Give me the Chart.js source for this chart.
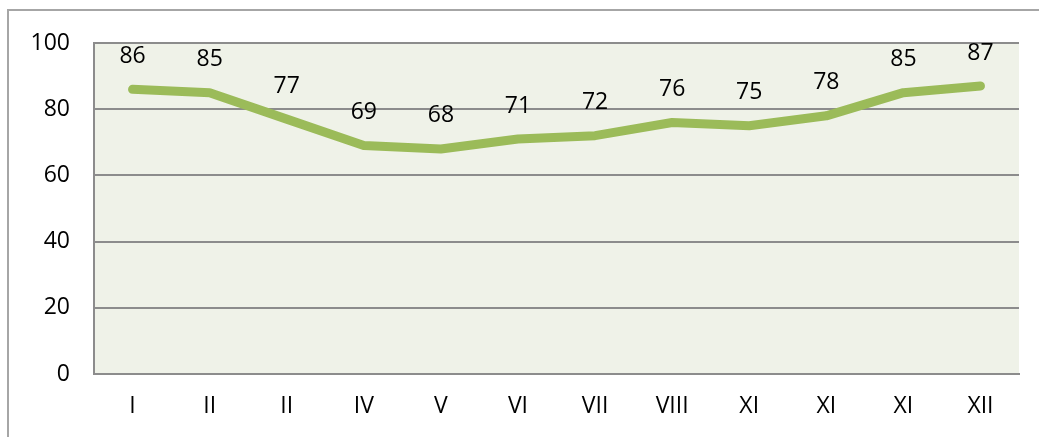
<!DOCTYPE html>
<html>
<head>
<meta charset="utf-8">
<script src="https://cdn.jsdelivr.net/npm/chart.js@4"></script>
<style>
  html, body { margin: 0; padding: 0; background: #fff; overflow: hidden; }
  #wrap { position: relative; width: 1039px; height: 437px; }
  #frame { position: absolute; left: 7px; top: 9px; width: 1100px; height: 500px; border: 2px solid #a6a6a6; box-sizing: border-box; }
  canvas { position: absolute; left: 0; top: 0; }
</style>
</head>
<body>
<div id="wrap">
  <div id="frame"></div>
  <canvas id="chart" width="1039" height="437"></canvas>
</div>
<script>
// Data
const months = ['I', 'II', 'II', 'IV', 'V', 'VI', 'VII', 'VIII', 'XI', 'XI', 'XI', 'XII'];
const values = [86, 85, 77, 69, 68, 71, 72, 76, 75, 78, 85, 87];
const yTicks = [0, 20, 40, 60, 80, 100];

const FONT = "'Open Sans', sans-serif";

// plot area background
const areaBg = {
    id: 'areaBg',
    beforeDraw(chart) {
        const { ctx, chartArea: a } = chart;
        ctx.save();
        ctx.fillStyle = '#eff2e8';
        ctx.fillRect(a.left, a.top, a.right - a.left, a.bottom - a.top);
        ctx.restore();
    }
};

// value labels above each point
const valueLabels = {
    id: 'valueLabels',
    afterDatasetsDraw(chart) {
        const { ctx } = chart;
        const meta = chart.getDatasetMeta(0);
        ctx.save();
        ctx.font = '23px ' + FONT;
        ctx.fillStyle = '#000';
        ctx.textAlign = 'center';
        ctx.textBaseline = 'middle';
        meta.data.forEach((pt, i) => {
            ctx.fillText(String(values[i]), pt.x, pt.y - 33);
        });
        ctx.restore();
    }
};

new Chart(document.getElementById('chart').getContext('2d'), {
    type: 'line',
    data: {
        labels: months,
        datasets: [{
            data: values,
            borderColor: '#9bbb59',
            borderWidth: 9,
            borderCapStyle: 'round',
            borderJoinStyle: 'round',
            pointRadius: 0,
            tension: 0,
            fill: false
        }]
    },
    options: {
        responsive: false,
        animation: false,
        layout: { padding: { top: 43, right: 20, bottom: 0, left: 0 } },
        plugins: {
            legend: { display: false },
            tooltip: { enabled: false }
        },
        scales: {
            x: {
                offset: true,
                grid: { display: false, drawTicks: false },
                border: { display: true, color: '#8c8c8c', width: 2 },
                ticks: { color: '#000', font: { family: FONT, size: 23 }, padding: 19 },
                afterFit: s => { s.height = 63; }
            },
            y: {
                min: 0,
                max: 100,
                afterBuildTicks: s => { s.ticks = yTicks.map(v => ({ value: v })); },
                grid: { color: '#8c8c8c', lineWidth: 2, drawTicks: false },
                border: { display: true, color: '#8c8c8c', width: 2 },
                ticks: { color: '#000', font: { family: FONT, size: 23 }, padding: 24 },
                afterFit: s => { s.width = 94; }
            }
        }
    },
    plugins: [areaBg, valueLabels]
});
</script>
</body>
</html>
